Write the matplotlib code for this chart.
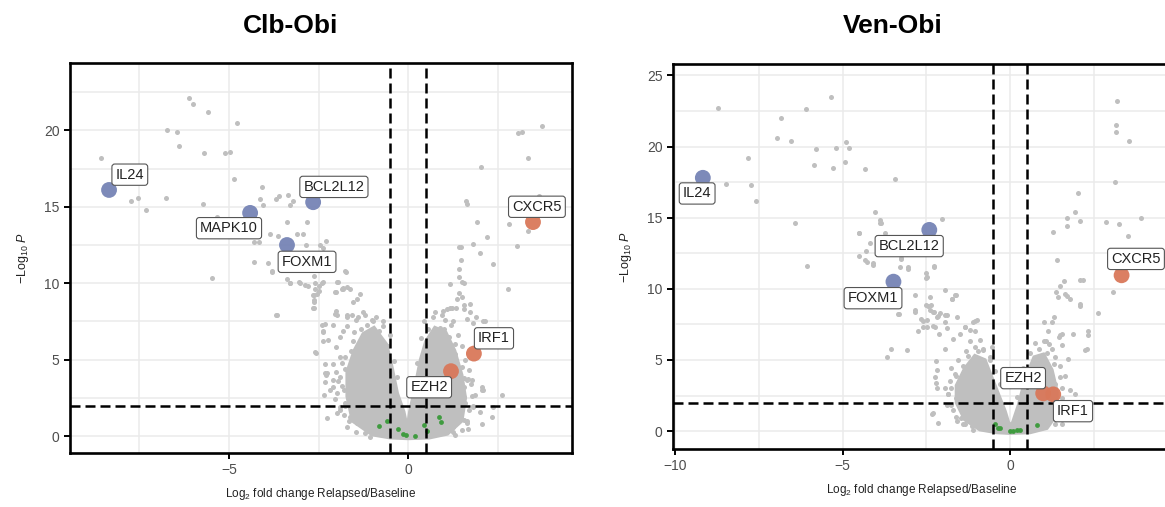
import numpy as np
import matplotlib
matplotlib.use("Agg")
import matplotlib.pyplot as plt

plt.rcParams["font.family"] = ["Liberation Sans", "DejaVu Sans"]
plt.rcParams["mathtext.fontset"] = "custom"
plt.rcParams["mathtext.rm"] = "Liberation Sans"
plt.rcParams["mathtext.it"] = "Liberation Sans:italic"

# ---- Clb-Obi ----
clb_bg_x = [-6.12, -6.0, -5.6, -4.79, -6.74, -6.46, -6.40, -5.70, -5.10, -4.97, -8.58, -4.85, -4.08,
            -7.74, -7.53, -7.32, -6.75, -5.73, -5.34, -4.13, -4.04, -3.70, -3.60, -3.34, -3.20, -3.30,
            -3.37, -2.81, -3.85, -3.62, -3.11, -2.94, -4.30, -4.15, -2.85, -2.46, -4.30, -3.90, -5.47,
            -3.81, -2.29, -2.37, -2.63, -1.76, -3.67, -3.31, -3.02, -2.88, -2.60, -2.37, -1.99, -1.81,
            -1.34, -2.01, -2.63, -2.63, -1.53, -2.04, -1.27, -1.70, -2.10, -0.97, -2.57, -2.29, -1.76,
            -2.34, -1.99, -2.38, -1.81, -2.60, -1.85, -1.62, -2.65, -2.32, -1.01, -2.37, -2.60, -2.32,
            -2.09, -3.79, -3.39, -3.30, -3.04, -2.78, -2.50, -2.41, -2.65, -2.55, -2.48, -2.63, -1.73,
            -1.95, -2.04, -1.81, -1.71, -1.43, -2.63, -2.01, -1.99, -1.71, -1.57, -1.39, -3.69, -2.41,
            -2.37, -2.23, -2.32, -2.09, -2.27, -2.32, -2.09, -1.90, -2.18, -1.99, -2.27, -1.90, -1.43,
            -1.62, -1.75, -1.55, -1.30, -0.70, -0.50, -1.85, -1.75, -1.65, -1.20,
            -1.90, -1.70, -1.45, -1.20, -0.90, -0.70, -2.00, -1.85, -2.00, -1.95, -2.05, -1.90, -1.80,
            -1.70, -1.45, -1.05, -1.60, -1.50, -1.15, -0.80, -0.55, -0.40, -0.30, -1.80, -1.75, -1.90,
            3.73, 3.06, 3.19, 3.36, 2.04, 1.61, 1.64, 3.66, 1.92, 2.83, 3.34, 2.20, 1.42, 1.49, 1.82,
            3.04, 2.00, 1.48, 2.38, 1.42, 1.42, 1.50, 1.57, 1.17, 2.79, 1.42, 1.50, 1.36, 1.73, 1.08,
            1.22, 1.34, 1.55, 1.73, 0.75, 1.64, 1.82, 1.03, 1.27, 2.10, 0.99, 1.17, 1.55, 1.89, 2.09,
            2.13, 2.06, 2.38, 2.06, 1.68, 2.15, 2.62, 2.10, 1.87, 1.68, 1.82, 1.45, 1.64, 1.78, 1.55,
            2.06, 1.82, 2.01, 1.55, 1.64, 2.34, 1.27, 0.55, 0.90, 1.15, 1.30, 1.50, 1.55, 1.50, 1.45,
            1.25,
            0.45, 0.70, 0.95, 1.20, 1.40, 1.50, 1.60, 1.70, 1.75, 1.80, 1.70, 1.65, 1.50, 1.30, 0.35,
            0.25, 0.15, 0.10, 1.00, 1.30, 1.55, 1.60]
clb_bg_y = [22.1, 21.7, 21.2, 20.5, 20.0, 19.9, 19.0, 18.5, 18.5, 18.6, 18.2, 16.8, 16.3,
            15.4, 15.6, 14.8, 15.6, 15.2, 14.3, 15.5, 15.1, 15.5, 15.7, 15.8, 15.4, 15.1,
            14.0, 14.0, 13.2, 13.1, 13.2, 13.2, 12.7, 12.7, 12.5, 12.5, 11.4, 11.35, 10.35,
            10.8, 12.75, 12.3, 10.5, 10.8, 7.95, 10.0, 10.0, 9.9, 9.65, 10.1, 10.1, 9.7,
            9.3, 9.4, 9.2, 8.8, 8.8, 8.0, 8.1, 7.9, 7.3, 7.5, 5.45, 4.0, 4.4,
            2.7, 1.5, 6.2, 6.9, 10.0, 9.6, 9.65, 8.4, 7.35, 7.6, 6.9, 5.5, 4.1,
            3.2, 10.75, 10.3, 10.0, 10.1, 9.8, 9.8, 10.0, 9.2, 9.3, 9.5, 8.9, 10.75,
            10.1, 9.4, 9.65, 9.75, 9.0, 8.35, 8.2, 7.9, 7.8, 7.9, 7.8, 7.95, 7.3,
            6.8, 6.3, 4.75, 4.75, 4.1, 3.55, 3.66, 3.88, 3.0, 2.8, 1.16, 1.7, 0.83,
            1.26, 5.2, 6.2, 7.0, 7.2, 6.6, 3.3, 2.2, 1.0, 0.2,
            6.5, 7.2, 7.6, 7.9, 7.8, 7.5, 5.8, 4.8, 4.2, 3.6, 2.4, 1.9, 1.4,
            0.6, 0.3, -0.05, 5.6, 6.8, 7.3, 6.9, 5.9, 4.9, 3.9, 3.0, 2.0, 5.2,
            20.3, 19.85, 19.9, 18.2, 17.6, 15.4, 15.2, 15.7, 14.0, 13.9, 13.4, 13.0, 12.4, 12.4, 12.55,
            12.45, 11.95, 11.5, 11.25, 10.9, 10.4, 10.1, 10.0, 9.95, 9.65, 9.35, 9.1, 9.0, 8.65, 8.3,
            8.37, 8.4, 8.3, 8.15, 8.15, 7.65, 7.4, 7.6, 7.55, 6.95, 8.2, 8.35, 8.55, 7.8, 7.5,
            6.8, 3.2, 1.9, 0.8, 0.5, 7.5, 2.7, 3.0, 2.7, 3.77, 2.0, 3.9, 3.66, 3.66, 2.57,
            3.0, 1.9, 1.6, 1.05, 0.83, 1.26, 0.6, 7.0, 7.1, 6.5, 5.4, 4.5, 3.2, 2.0, 1.2,
            0.25,
            7.5, 7.8, 7.9, 7.3, 6.6, 5.9, 5.0, 4.3, 3.4, 2.6, 1.7, 1.0, 0.4, 0.05, 6.4,
            4.8, 3.7, 2.8, 7.0, 6.0, 3.8, 2.2]
# outline of the dense, overlapping core of the cloud
clb_core_x = [0.0, 0.6, 1.1, 1.5, 1.6, 1.5, 1.3, 1.05, 0.75, 0.5, 0.35, 0.18, 0.05, -0.02, -0.12,
              -0.3, -0.45, -0.6, -0.95, -1.25, -1.5, -1.7, -1.7, -1.55, -1.0, -0.5]
clb_core_y = [-0.15, -0.1, 0.15, 1.0, 2.5, 4.0, 5.6, 6.8, 7.1, 6.2, 5.0, 3.0, 1.6, 0.5, 1.6,
              2.8, 4.5, 6.0, 7.1, 6.7, 5.6, 4.2, 2.6, 1.0, 0.1, -0.1]
clb_ns_x = [-0.80, -0.58, -0.29, -0.13, -0.06, 0.20, 0.45, 0.52, 0.87, 0.92]
clb_ns_y = [0.65, 0.98, 0.44, 0.11, 0.07, 0.0, 0.76, 0.33, 1.26, 0.93]
clb_genes = ["IL24", "MAPK10", "BCL2L12", "FOXM1", "CXCR5", "IRF1", "EZH2"]
clb_fc = [-8.35, -4.41, -2.65, -3.38, 3.49, 1.84, 1.20]
clb_p = [16.1, 14.6, 15.3, 12.5, 14.0, 5.4, 4.25]
clb_lab_x = [-7.77, -5.0, -2.07, -2.82, 3.60, 2.40, 0.59]
clb_lab_y = [17.1, 13.6, 16.3, 11.4, 15.0, 6.4, 3.2]

# ---- Ven-Obi ----
ven_bg_x = [-8.72, -5.33, -6.08, -6.84, -6.96, -6.55, -5.78, -5.19, -4.89, -4.81, -5.85, -5.27, -4.93,
            -4.33, -3.43, -7.83, -8.47, -7.73, -7.58, -6.41, -4.04, -3.89, -3.86, -4.51, -4.19, -4.52,
            -4.29, -3.73, -3.24, -2.03, -6.07, -4.28, -4.08, -3.28, -3.04, -2.27, -2.52, -2.51, -1.94,
            -1.64, -2.84, -3.33, -2.84, -2.52, -2.37, -2.27, -1.94, -2.59, -2.76, -2.29, -2.12, -1.87,
            -3.56, -3.68, -3.07, -2.21, -1.94, -1.69, -1.34, -1.10, -1.04, -2.19, -2.24, -2.21, -2.34,
            -2.19, -1.89, -1.57, -1.34, -2.29, -2.14, -2.59, -2.49, -2.19, -1.94, -1.74, -2.84, -0.99,
            -1.19, -0.80, -1.49, -3.88, -4.50, -4.33, -4.08, -3.25, -3.04, -2.47, -2.26, -2.39, -1.74,
            -1.61, -2.44, -2.39, -2.29, -2.14, -2.09, -2.66, -3.30, -1.89, -1.59, -1.34, -1.04, -2.49,
            -2.24, -1.60, -1.75, -1.60, -1.85, -1.70, -1.45, -1.15, -1.40, -1.25, -0.95, -0.60,
            -1.75, -1.55, -1.30, -1.05, -0.80, -0.60, -0.45, -0.30, -1.80, -1.85, -1.75, -1.60, -1.40,
            -1.10, -1.65, -1.20, -0.90, -0.55, -1.95,
            3.18, 3.16, 3.16, 3.54, 3.13, 2.04, 1.94, 1.70, 2.08, 1.70, 1.29, 2.86, 3.25, 3.90, 3.53,
            1.39, 1.61, 1.50, 1.37, 2.08, 2.19, 1.64, 1.70, 1.79, 1.44, 3.08, 2.08, 2.62, 1.01, 1.24,
            1.32, 1.14, 1.54, 1.47, 2.34, 2.32, 1.07, 1.17, 1.56, 2.25, 1.72, 1.34, 2.29, 1.49, 1.89,
            2.09, 1.99, 1.79, 1.50, 1.65, 1.35, 1.80, 1.55, 1.95, 1.45, 1.70, 1.30, 1.55,
            0.40, 0.60, 0.85, 1.10, 1.30, 1.50, 1.55, 1.55, 1.50, 1.35, 0.30, 0.20, 0.75, 1.00, 1.25]
ven_bg_y = [22.7, 23.5, 22.65, 22.0, 20.6, 20.4, 19.8, 19.9, 20.35, 19.9, 18.7, 18.5, 18.9,
            18.45, 17.7, 19.2, 17.4, 17.3, 16.2, 14.6, 15.4, 14.8, 14.6, 13.9, 13.2, 12.3,
            12.65, 13.9, 12.15, 14.9, 11.6, 11.9, 11.7, 11.5, 11.5, 11.6, 11.1, 10.75, 9.95,
            9.55, 9.55, 8.2, 8.4, 8.85, 8.85, 8.4, 7.7, 7.75, 7.0, 7.4, 6.8, 7.25,
            5.75, 5.2, 5.7, 4.9, 5.75, 6.5, 7.3, 7.7, 7.0, 4.3, 3.8, 3.35, 1.17,
            3.0, 1.8, 0.7, 0.47, 1.24, 0.54, 7.3, 7.8, 8.0, 8.15, 9.3, 8.5, 7.8,
            7.1, 5.8, 6.85, 14.65, 13.9, 12.0, 11.8, 12.1, 11.4, 10.8, 11.55, 9.4, 9.27,
            9.55, 8.8, 8.5, 8.4, 8.1, 8.27, 7.9, 8.2, 8.15, 8.0, 7.3, 7.75, 7.3,
            7.3, 3.9, 3.0, 2.3, 2.6, 1.5, 0.9, 0.35, 4.6, 5.3, 5.6, 5.2,
            4.4, 5.0, 5.6, 5.9, 5.7, 5.0, 4.2, 3.3, 3.5, 2.6, 1.8, 1.0, 0.5,
            0.1, 4.0, 6.3, 6.4, 5.9, 3.0,
            23.2, 21.5, 21.0, 20.4, 17.5, 16.7, 15.4, 15.0, 14.75, 14.4, 14.0, 14.7, 14.55, 15.0, 13.7,
            12.0, 10.55, 10.2, 9.8, 10.6, 10.6, 9.6, 9.5, 9.3, 9.4, 9.75, 8.8, 8.3, 7.7, 7.7,
            8.0, 7.0, 6.85, 6.6, 7.0, 6.75, 6.35, 6.15, 6.05, 5.7, 5.1, 5.2, 5.75, 6.75, 6.85,
            8.95, 1.95, 1.0, 4.6, 3.9, 3.3, 2.9, 2.3, 2.6, 1.7, 1.4, 0.9, 0.5,
            4.4, 5.5, 5.8, 5.5, 4.7, 3.8, 3.0, 2.0, 1.2, 0.5, 3.3, 2.4, 6.2, 6.3, 5.8]
ven_core_x = [0.0, 0.6, 1.1, 1.4, 1.4, 1.25, 1.0, 0.72, 0.45, 0.25, 0.08, -0.02, -0.15, -0.35,
              -0.55, -0.75, -1.05, -1.35, -1.6, -1.6, -1.35, -0.9, -0.4]
ven_core_y = [-0.15, -0.1, 0.2, 1.2, 2.8, 4.3, 5.4, 5.2, 3.6, 1.8, 0.6, 0.4, 1.4, 2.6,
              3.8, 5.0, 5.3, 4.4, 3.2, 2.0, 0.8, 0.1, -0.1]
ven_ns_x = [-0.45, -0.35, -0.30, 0.0, 0.10, 0.20, 0.30, 0.82]
ven_ns_y = [0.49, 0.23, 0.20, -0.03, 0.0, 0.05, 0.07, 0.43]
ven_genes = ["IL24", "BCL2L12", "FOXM1", "CXCR5", "EZH2", "IRF1"]
ven_fc = [-9.17, -2.41, -3.48, 3.33, 0.99, 1.29]
ven_p = [17.8, 14.14, 10.5, 10.95, 2.65, 2.58]
ven_lab_x = [-9.34, -3.01, -4.09, 3.76, 0.39, 1.88]
ven_lab_y = [16.7, 13.0, 9.34, 12.1, 3.72, 1.40]

GREY = "#BFBFBF"
BLUE = "#7684B5"
ORANGE = "#D9785A"
GREEN = "#3F9B3F"


def volcano(ax, bg_x, bg_y, core_x, core_y, ns_x, ns_y, genes, fc, p, lab_x, lab_y,
            xlim, ylim, xticks, yticks):
    ax.set_xlim(*xlim)
    ax.set_ylim(*ylim)
    ax.set_facecolor("white")
    grid_x = np.arange(-10, 5.1, 2.5)
    grid_y = np.arange(0, 26, 2.5)
    for g in grid_x:
        ax.axvline(g, color="#EBEBEB", lw=1.1, zorder=0)
    for g in grid_y:
        ax.axhline(g, color="#EBEBEB", lw=1.1, zorder=0)

    ax.fill(core_x, core_y, color=GREY, ec=GREY, lw=2.5, zorder=1)
    ax.scatter(bg_x, bg_y, s=13, color=GREY, lw=0, zorder=2)
    ax.scatter(ns_x, ns_y, s=12, color=GREEN, lw=0, zorder=3)

    for v in (-0.5, 0.5):
        ax.axvline(v, color="black", lw=1.8, ls=(0, (4, 2)), zorder=4)
    ax.axhline(2, color="black", lw=1.8, ls=(0, (4, 2)), zorder=4)

    cols = [BLUE if f < 0 else ORANGE for f in fc]
    ax.scatter(fc, p, s=130, color=cols, lw=0, alpha=0.95, zorder=5)
    for g, lx, ly in zip(genes, lab_x, lab_y):
        ax.text(lx, ly, g, ha="center", va="center", fontsize=10.5, color="#222222", zorder=6,
                bbox=dict(boxstyle="round,pad=0.25,rounding_size=0.2", fc="white",
                          ec="#555555", lw=0.8))

    ax.set_xticks(xticks)
    ax.set_yticks(yticks)
    ax.tick_params(length=4, width=1.4, color="black", labelsize=10, labelcolor="#4D4D4D")
    for sp in ax.spines.values():
        sp.set_linewidth(1.9)
        sp.set_color("black")
        sp.set_zorder(7)
    ax.set_xlabel("Log$_2$ fold change Relapsed/Baseline", fontsize=8.5, color="#222222", labelpad=6)
    ax.set_ylabel("$-$Log$_{10}$ $\\it{P}$", fontsize=9, color="#222222", labelpad=9)


fig = plt.figure(figsize=(11.65, 5.07), dpi=100)
ax1 = fig.add_axes([0.0601, 0.1065, 0.4309, 0.7692])
ax2 = fig.add_axes([0.5777, 0.1144, 0.4273, 0.7594])

volcano(ax1, clb_bg_x, clb_bg_y, clb_core_x, clb_core_y, clb_ns_x, clb_ns_y,
        clb_genes, clb_fc, clb_p, clb_lab_x, clb_lab_y,
        (-9.44, 4.58), (-1.1, 24.4), [-5, 0], [0, 5, 10, 15, 20])
volcano(ax2, ven_bg_x, ven_bg_y, ven_core_x, ven_core_y, ven_ns_x, ven_ns_y,
        ven_genes, ven_fc, ven_p, ven_lab_x, ven_lab_y,
        (-10.06, 4.8), (-1.26, 25.8), [-10, -5, 0], [0, 5, 10, 15, 20, 25])

fig.text(0.249, 0.948, "Clb-Obi", ha="center", va="center", fontsize=19, fontweight="bold")
fig.text(0.7665, 0.948, "Ven-Obi", ha="center", va="center", fontsize=19, fontweight="bold")

fig.savefig("out.png", dpi=100)
